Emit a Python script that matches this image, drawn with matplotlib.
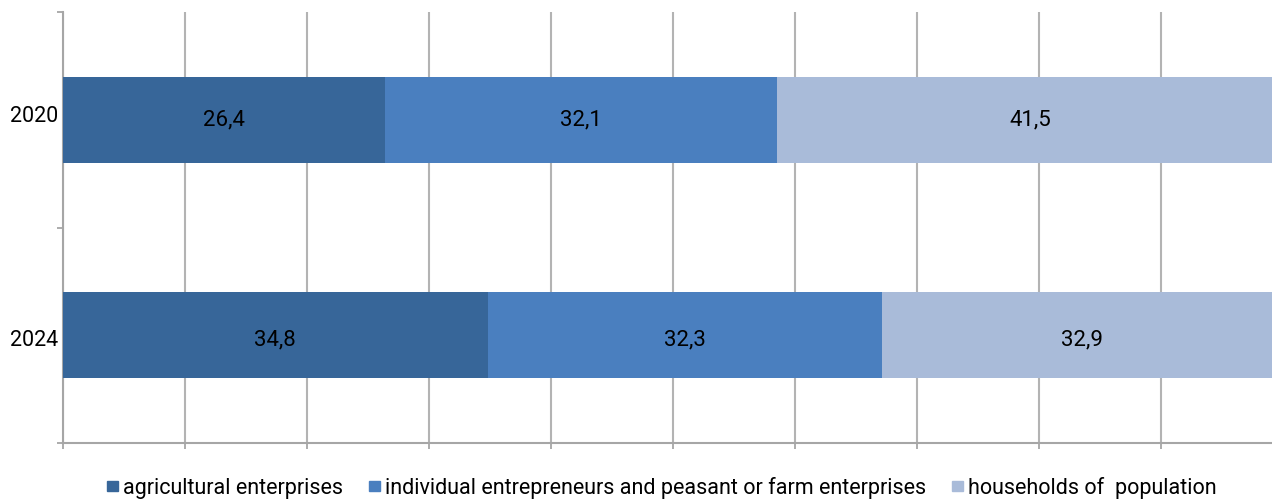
import matplotlib.pyplot as plt
import matplotlib.transforms as mtransforms
from matplotlib.patches import Rectangle

plt.rcParams['font.family'] = ['Roboto', 'DejaVu Sans']

### --- Data ---
years = ['2020', '2024']
agricultural = [26.4, 34.8]
individual = [32.1, 32.3]
households = [41.5, 32.9]

series_names = ['agricultural enterprises',
                'individual entrepreneurs and peasant or farm enterprises',
                'households of  population']
colors = ['#376699', '#4a7fbf', '#a9bbd9']

### --- Plot ---
fig = plt.figure(figsize=(12.72, 5), dpi=100)
ax = fig.add_axes([63 / 1272, 57 / 500, 1220 / 1272, 431 / 500])

ypos = [1, 0]
# small vertical nudges (in points) seen in the reference labels
label_shift = [0.0, -3.5]
year_shift = [2.0, -3.5]


def nudge(base, dy):
    return base + mtransforms.ScaledTranslation(0, dy / 72, fig.dpi_scale_trans)


left = [0, 0]
for vals, c in zip([agricultural, individual, households], colors):
    ax.barh(ypos, vals, left=left, height=0.4, color=c, zorder=3)
    for y, l, v, dy in zip(ypos, left, vals, label_shift):
        ax.text(l + v / 2, y, f'{v:.1f}'.replace('.', ','), ha='center', va='center',
                fontsize=16, color='black', zorder=4, transform=nudge(ax.transData, dy))
    left = [l + v for l, v in zip(left, vals)]

# year labels drawn as text so they can be nudged
for y, name, dy in zip(ypos, years, year_shift):
    ax.text(-0.004, y, name, ha='right', va='center', fontsize=15.5,
            transform=nudge(ax.get_yaxis_transform(), dy))

ax.set_xlim(0, 100)
ax.set_ylim(-0.5, 1.5)
ax.set_xticks(range(0, 101, 10))
ax.set_xticklabels([])
ax.set_yticks([-0.5, 0.5, 1.5])
ax.set_yticklabels([])
ax.tick_params(axis='y', length=4, color='#a6a6a6', width=1.3)
ax.tick_params(axis='x', length=4, color='#a6a6a6', width=1.3)
ax.grid(axis='x', color='#b3b3b3', linewidth=1.5, zorder=0)
for s in ['top', 'right']:
    ax.spines[s].set_visible(False)
for s in ['left', 'bottom']:
    ax.spines[s].set_color('#a6a6a6')
    ax.spines[s].set_linewidth(1.5)

handles = [Rectangle((0, 0), 1, 1, color=c) for c in colors]
fig.legend(handles, series_names, loc='center', bbox_to_anchor=(662 / 1272, 1 - 488 / 500),
           ncol=3, frameon=False, fontsize=15.5, handlelength=0.5, handleheight=0.35,
           handletextpad=0.25, columnspacing=1.2)

fig.savefig('out.png', dpi=100)
